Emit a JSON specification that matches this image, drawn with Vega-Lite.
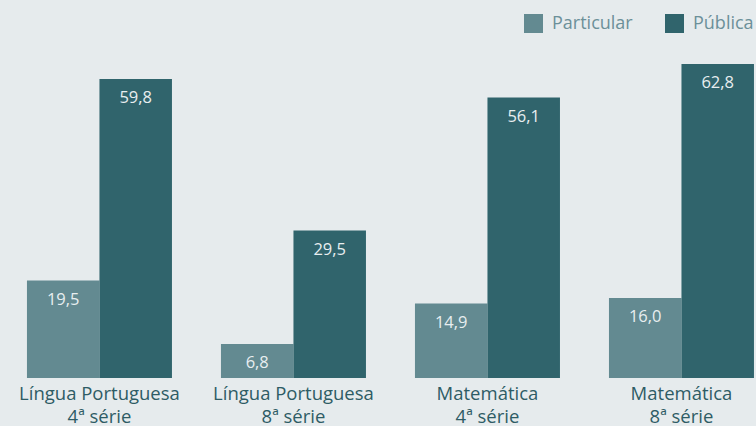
{
  "$schema": "https://vega.github.io/schema/vega-lite/v6.json",
  "width": 756,
  "height": 378,
  "autosize": {"type": "none"},
  "padding": {"left": 0, "top": 0, "right": 0, "bottom": 48},
  "background": "#e6ebed",
  "config": {
    "view": {"stroke": null},
    "font": "Open Sans",
    "locale": {"number": {"decimal": ",", "thousands": ".", "grouping": [3], "currency": ["R$", ""]}}
  },
  "data": {
    "values": [
      {"grupo": "Língua Portuguesa|4ª série", "tipo": "Particular", "valor": 19.5},
      {"grupo": "Língua Portuguesa|4ª série", "tipo": "Pública", "valor": 59.8},
      {"grupo": "Língua Portuguesa|8ª série", "tipo": "Particular", "valor": 6.8},
      {"grupo": "Língua Portuguesa|8ª série", "tipo": "Pública", "valor": 29.5},
      {"grupo": "Matemática|4ª série", "tipo": "Particular", "valor": 14.9},
      {"grupo": "Matemática|4ª série", "tipo": "Pública", "valor": 56.1},
      {"grupo": "Matemática|8ª série", "tipo": "Particular", "valor": 16.0},
      {"grupo": "Matemática|8ª série", "tipo": "Pública", "valor": 62.8}
    ]
  },
  "encoding": {
    "x": {
      "field": "grupo",
      "type": "nominal",
      "sort": ["Língua Portuguesa|4ª série", "Língua Portuguesa|8ª série", "Matemática|4ª série", "Matemática|8ª série"],
      "scale": {"paddingInner": 0.2526, "paddingOuter": 0.0747, "align": 0.93},
      "axis": {
        "title": null,
        "labelAngle": 0,
        "ticks": false,
        "domain": false,
        "labelFontSize": 18.5,
        "labelColor": "#2e5c65",
        "labelPadding": 6,
        "labelLimit": 0,
        "labelLineHeight": 23,
        "labelExpr": "split(datum.label, '|')"
      }
    },
    "xOffset": {
      "field": "tipo",
      "type": "nominal",
      "sort": ["Particular", "Pública"],
      "scale": {"paddingInner": 0, "paddingOuter": 0}
    },
    "y": {
      "field": "valor",
      "type": "quantitative",
      "scale": {"domain": [0, 75.6], "nice": false},
      "axis": null
    }
  },
  "layer": [
    {
      "mark": {"type": "bar"},
      "encoding": {
        "color": {
          "field": "tipo",
          "type": "nominal",
          "scale": {"domain": ["Particular", "Pública"], "range": ["#638a91", "#30646c"]},
          "legend": {
            "title": null,
            "orient": "none",
            "legendX": 524,
            "legendY": 14,
            "direction": "horizontal",
            "symbolType": "square",
            "symbolSize": 361,
            "symbolStrokeWidth": 0,
            "labelFontSize": 18,
            "labelColor": "#6c9099",
            "labelOffset": 9,
            "columnPadding": 32
          }
        }
      }
    },
    {
      "mark": {"type": "text", "dy": 24, "baseline": "alphabetic", "color": "#e8eef0", "fontSize": 16.5},
      "encoding": {
        "text": {"field": "valor", "type": "quantitative", "format": ".1f"}
      }
    }
  ]
}
